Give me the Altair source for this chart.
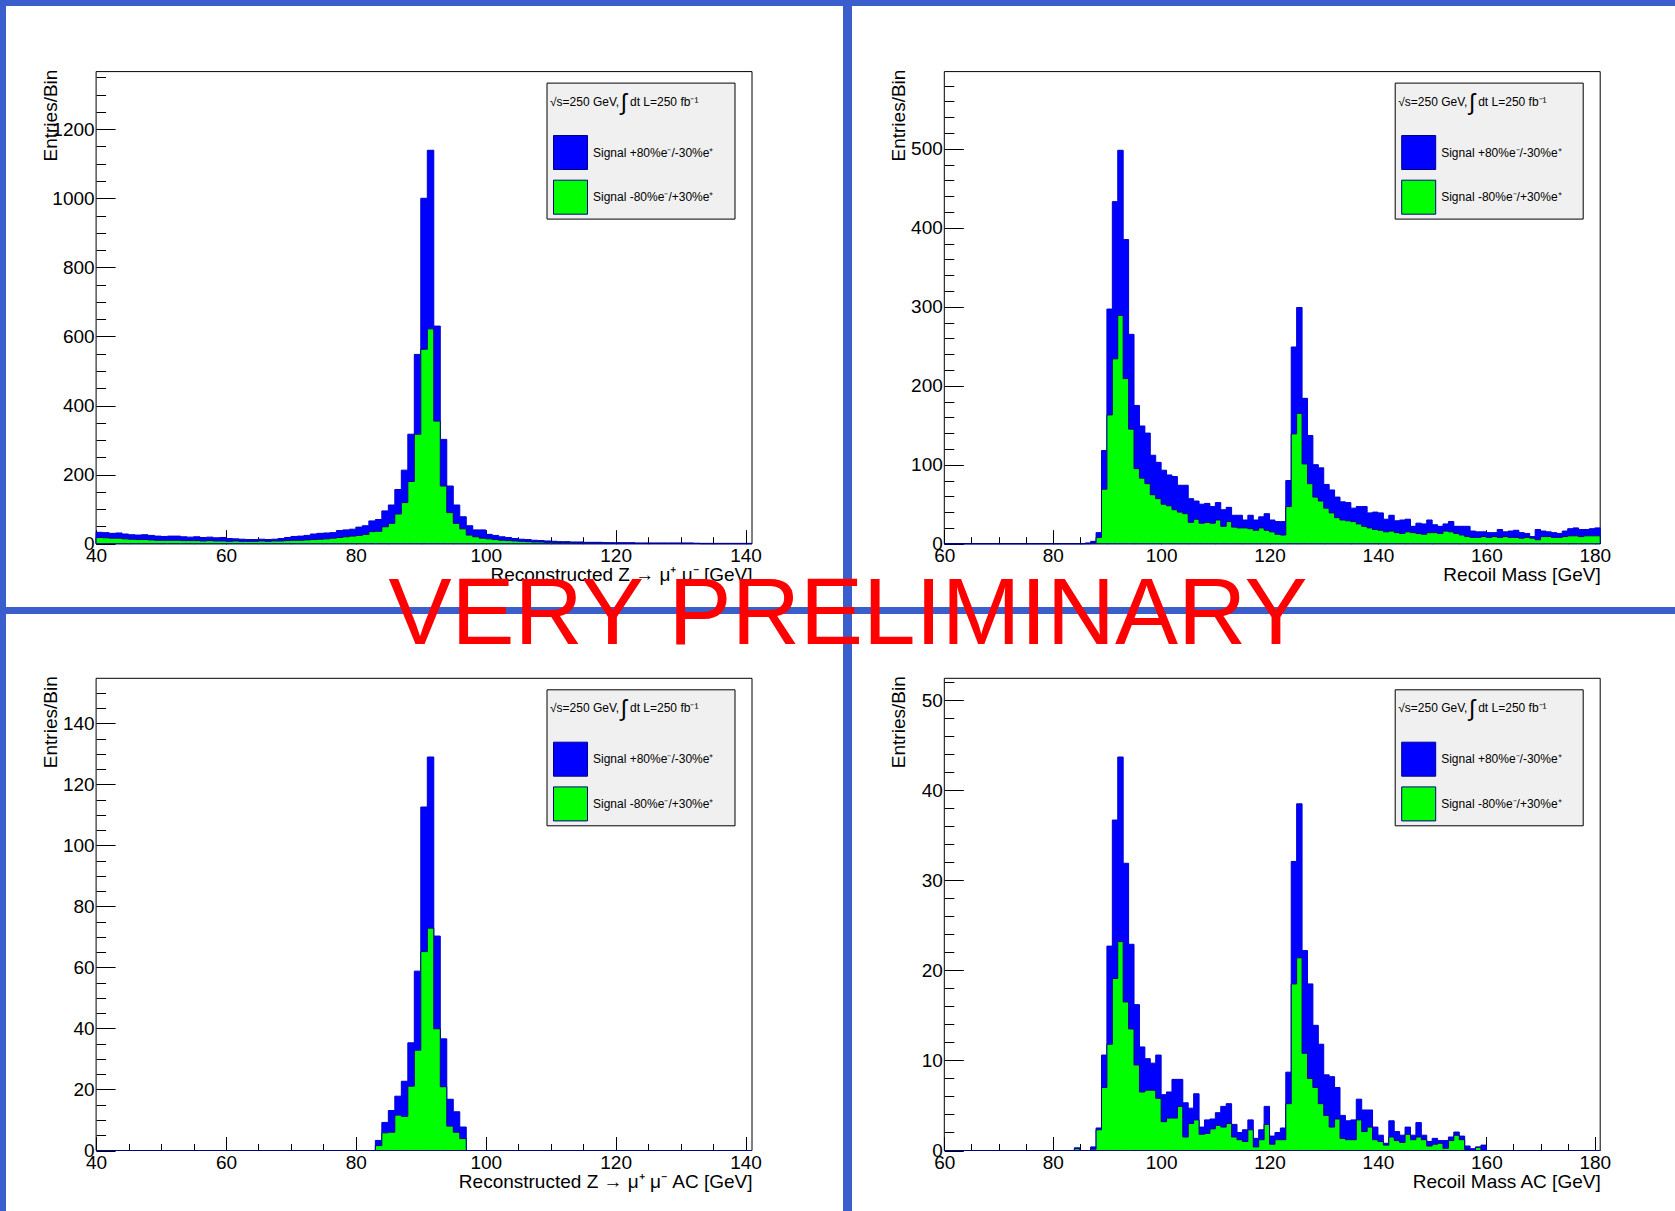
import altair as alt
import pandas as pd

W, H = 1675, 1211
FONT = "Liberation Sans"
BLUE = "#0000ff"
GREEN = "#00ff00"
BORDER = "#3a5fcd"

LABEL_BLUE = "Signal +80%e⁻/-30%e⁺"
LABEL_GREEN = "Signal -80%e⁻/+30%e⁺"
# header line of each legend box, in three pieces (the integral sign is set larger)
HEADER_LEFT = "√s=250 GeV,"
HEADER_INT = "∫"
HEADER_RIGHT = "dt L=250 fb⁻¹"

# ---------------- histogram contents (1 GeV bins) ----------------
# Reconstructed Z -> mu mu, bins start at 40 GeV
zmm_start = 40
zmm_pol_plus = [
    33, 32, 30, 31, 28, 26, 25, 26, 24, 22,
    21, 22, 22, 20, 19, 20, 18, 19, 17, 18,
    15, 14, 13, 12, 12, 13, 12, 13, 15, 18,
    21, 22, 24, 28, 30, 31, 32, 38, 40, 42,
    48, 52, 66, 70, 95, 112, 157, 213, 317, 548,
    1000, 1139, 630, 302, 167, 112, 78, 52, 40, 40,
    27, 24, 20, 18, 15, 13, 12, 10, 9, 8,
    7, 6, 6, 5, 5, 4, 4, 4, 3, 3,
    3, 3, 3, 2, 2, 2, 2, 2, 2, 2,
    2, 2, 1, 1, 1, 1, 1, 1, 1, 1,
    1,
]
zmm_pol_minus = [
    18, 17, 16, 16, 14, 13, 12, 12, 11, 10,
    10, 10, 10, 9, 9, 9, 8, 9, 8, 8,
    7, 8, 7, 7, 7, 8, 7, 8, 8, 9,
    10, 10, 11, 12, 13, 14, 16, 18, 20, 22,
    24, 27, 35, 36, 49, 59, 86, 119, 180, 317,
    563, 622, 355, 167, 90, 59, 43, 25, 20, 16,
    14, 12, 10, 9, 8, 7, 6, 5, 5, 4,
    4, 3, 3, 3, 2, 2, 2, 2, 2, 1,
    1, 1, 1, 1, 1, 1, 1, 1, 1, 1,
    1, 1, 1, 0, 0, 0, 0, 0, 0, 0,
    0,
]

# Recoil mass, bins start at 60 GeV
recoil_start = 60
recoil_pol_plus = [0] * 25 + [
    0, 1, 3, 14, 118,
    297, 433, 498, 385, 265, 175, 149, 140, 112, 103,
    93, 87, 85, 74, 74, 57, 54, 50, 51, 47,
    52, 43, 46, 36, 36, 30, 36, 30, 34, 38,
    30, 28, 28, 80, 249, 299, 184, 137, 100, 96,
    75, 68, 59, 53, 52, 45, 47, 47, 39, 40,
    39, 31, 36, 29, 30, 31, 22, 26, 25, 30,
    24, 22, 25, 28, 22, 22, 22, 16, 15, 15,
    14, 14, 18, 15, 16, 17, 14, 13, 9, 18,
    16, 15, 14, 13, 16, 19, 20, 18, 18, 19, 20,
]
recoil_pol_minus = [0] * 25 + [
    0, 0, 1, 8, 69,
    163, 234, 289, 209, 145, 95, 83, 76, 62, 57,
    50, 48, 43, 40, 38, 27, 31, 26, 27, 26,
    30, 22, 28, 21, 20, 20, 19, 17, 20, 17,
    15, 12, 11, 47, 139, 165, 101, 76, 59, 54,
    45, 39, 33, 30, 29, 28, 25, 22, 20, 18,
    17, 15, 16, 14, 13, 15, 14, 13, 12, 14,
    14, 13, 16, 15, 13, 11, 9, 8, 8, 9,
    8, 9, 8, 9, 8, 8, 7, 8, 7, 5,
    9, 9, 8, 8, 9, 10, 10, 9, 10, 10, 10,
]

# Reconstructed Z -> mu mu after cuts, bins start at 40 GeV
zmm_ac_start = 40
zmm_ac_pol_plus = [0] * 43 + [
    3.3, 9.2, 13.1, 17.8, 22.7, 35.3, 58.8, 112.6, 129.0, 70.3, 36.6, 16.8, 12.7, 7.7,
] + [0] * 44
zmm_ac_pol_minus = [0] * 43 + [
    1.6, 5.8, 6.0, 11.6, 11.2, 21.1, 32.9, 65.2, 72.9, 39.9, 20.9, 8.0, 6.0, 3.9,
] + [0] * 44

# Recoil mass after cuts, bins start at 60 GeV
recoil_ac_start = 60
recoil_ac_pol_plus = [0] * 24 + [
    0.3, 0, 0, 0.4, 2.5, 10.6,
    22.7, 36.7, 43.7, 31.9, 22.9, 16.2, 11.5, 10.2, 9.7, 10.6,
    6.2, 6.5, 7.9, 7.9, 5.3, 4.7, 6.3, 2.6, 3.4, 3.5,
    4.2, 4.9, 5.2, 2.9, 2.0, 2.3, 3.4, 1.35, 2.3, 4.9,
    1.6, 2.0, 2.5, 8.7, 32.1, 38.5, 22.2, 18.5, 13.9, 11.8,
    8.4, 8.2, 7.0, 3.9, 3.3, 3.4, 5.7, 4.5, 4.5, 2.6,
    1.7, 0.8, 3.3, 2.1, 1.7, 2.6, 1.7, 3.1, 1.7, 1.0,
    1.35, 1.1, 1.1, 1.5, 2.05, 1.6, 0.5, 0.2, 0.4, 0.6,
] + [0] * 21
recoil_ac_pol_minus = [0] * 24 + [
    0.2, 0, 0, 0.15, 2.3, 7.0,
    11.8, 19.1, 23.2, 16.5, 13.5, 9.5, 6.5, 6.7, 6.7, 5.8,
    3.2, 3.6, 3.6, 4.9, 1.5, 3.0, 3.4, 1.8, 1.9, 2.4,
    2.8, 2.6, 3.0, 1.5, 1.2, 1.0, 2.3, 0.4, 1.2, 2.9,
    0.7, 1.2, 1.2, 5.2, 18.5, 21.4, 10.8, 8.0, 7.0, 5.2,
    3.9, 2.6, 3.5, 1.35, 1.2, 1.2, 3.4, 2.1, 2.6, 1.2,
    1.0, 0.6, 1.5, 1.1, 0.9, 1.8, 1.2, 1.5, 1.2, 0.5,
    0.7, 0.8, 0.25, 1.1, 1.7, 1.2, 0.1, 0, 0.35, 0,
] + [0] * 21

# ---------------- axis tick values ----------------
z_x_major = [40, 60, 80, 100, 120, 140]
z_x_minor = list(range(40, 141, 5))
r_x_major = [60, 80, 100, 120, 140, 160, 180]
r_x_minor = list(range(60, 181, 5))

ZTITLE = "Reconstructed Z → μ⁺ μ⁻ [GeV]"
ZTITLE_AC = "Reconstructed Z → μ⁺ μ⁻ AC [GeV]"

# pad layout: frame box (left, top, right, bottom) in canvas pixels
LEFT_X = (96.1, 752.0)
RIGHT_X = (944.3, 1600.2)
TOP_Y = (71.6, 543.7)
BOTTOM_Y = (678.3, 1150.5)

panels = [
    dict(frame=(LEFT_X[0], TOP_Y[0], LEFT_X[1], TOP_Y[1]), start=zmm_start,
         plus=zmm_pol_plus, minus=zmm_pol_minus, xtitle=ZTITLE,
         xmajor=z_x_major, xminor=z_x_minor,
         ymajor=list(range(0, 1201, 200)), yminor=list(range(0, 1351, 50))),
    dict(frame=(RIGHT_X[0], TOP_Y[0], RIGHT_X[1], TOP_Y[1]), start=recoil_start,
         plus=recoil_pol_plus, minus=recoil_pol_minus, xtitle="Recoil Mass [GeV]",
         xmajor=r_x_major, xminor=r_x_minor,
         ymajor=list(range(0, 501, 100)), yminor=list(range(0, 581, 20))),
    dict(frame=(LEFT_X[0], BOTTOM_Y[0], LEFT_X[1], BOTTOM_Y[1]), start=zmm_ac_start,
         plus=zmm_ac_pol_plus, minus=zmm_ac_pol_minus, xtitle=ZTITLE_AC,
         xmajor=z_x_major, xminor=z_x_minor,
         ymajor=list(range(0, 141, 20)), yminor=list(range(0, 151, 5))),
    dict(frame=(RIGHT_X[0], BOTTOM_Y[0], RIGHT_X[1], BOTTOM_Y[1]), start=recoil_ac_start,
         plus=recoil_ac_pol_plus, minus=recoil_ac_pol_minus, xtitle="Recoil Mass AC [GeV]",
         xmajor=r_x_major, xminor=r_x_minor,
         ymajor=list(range(0, 51, 10)), yminor=list(range(0, 53, 2))),
]


def step_rows(start, values, series):
    """Rows for a step-after area: one point per bin edge, last value repeated."""
    rows = [{"x": start + i, "y": v, "series": series} for i, v in enumerate(values)]
    rows.append({"x": start + len(values), "y": values[-1], "series": series})
    return pd.DataFrame(rows)


ONE = alt.Data(values=[{}])


def header_text(text, x, y, size, align):
    return alt.Chart(ONE).mark_text(
        text=text, font=FONT, fontSize=size, color="black",
        align=align, baseline="middle"
    ).encode(x=alt.value(x), y=alt.value(y))


def panel_layers(p):
    fx0, fy0, fx1, fy1 = p["frame"]
    xlo = p["start"]
    xhi = p["start"] + len(p["plus"])
    ymax = 1.2 * max(p["plus"])

    xs = alt.Scale(domain=[xlo, xhi], range=[fx0, fx1], nice=False, zero=False)
    ys = alt.Scale(domain=[0, ymax], range=[fy1, fy0], nice=False, zero=False)
    cs = alt.Scale(domain=[LABEL_BLUE, LABEL_GREEN], range=[BLUE, GREEN])

    # frame + minor ticks (ticks point into the frame)
    frame = alt.Chart(pd.DataFrame({"x0": [xlo], "x1": [xhi], "y0": [0], "y1": [ymax]})).mark_rect(
        fill="transparent", stroke="black", strokeWidth=1
    ).encode(
        x=alt.X("x0:Q", scale=xs, axis=alt.Axis(
            orient="top", offset=-fy1, values=p["xminor"], tickSize=7, tickColor="black",
            labels=False, domain=False, grid=False, title=None)),
        x2="x1:Q",
        y=alt.Y("y0:Q", scale=ys, axis=alt.Axis(
            orient="right", offset=fx0 - W, values=p["yminor"], tickSize=9.5, tickColor="black",
            labels=False, domain=False, grid=False, title=None)),
        y2="y1:Q",
    )

    legend = alt.Legend(
        title=None, orient="none", legendX=fx1 - 202, legendY=fy0 + 63.4,
        padding=0, direction="vertical",
        labelFont=FONT, labelFontSize=12, labelColor="black", labelOffset=5, labelLimit=400,
        symbolType="square", symbolSize=1156, symbolStrokeColor="#00008b",
        symbolStrokeWidth=1, symbolOpacity=1, symbolOffset=3, rowPadding=5.7,
    )

    plus = alt.Chart(step_rows(xlo, p["plus"], LABEL_BLUE)).mark_area(
        interpolate="step-after", opacity=1, stroke="#0000d0", strokeWidth=1
    ).encode(
        x=alt.X("x:Q", scale=xs, axis=alt.Axis(
            orient="bottom", offset=fy1 - H, values=p["xmajor"], format="d",
            ticks=False, domain=False, grid=False,
            labelFont=FONT, labelFontSize=19, labelColor="black", labelPadding=3,
            labelFlush=False, labelOverlap=False,
            title=p["xtitle"], titleFont=FONT, titleFontSize=19, titleFontWeight="normal",
            titleColor="black", titleX=fx1, titleY=37, titleAlign="right",
            titleBaseline="alphabetic")),
        y=alt.Y("y:Q", scale=ys, stack=None, axis=alt.Axis(
            orient="left", offset=-fx0, values=p["ymajor"], format="d",
            ticks=False, domain=False, grid=False,
            labelFont=FONT, labelFontSize=19, labelColor="black", labelPadding=2,
            labelFlush=False, labelOverlap=False,
            title="Entries/Bin", titleFont=FONT, titleFontSize=19, titleFontWeight="normal",
            titleColor="black", titleAngle=270, titleAlign="right",
            titleBaseline="alphabetic", titleX=-40, titleY=fy0 - 2.5)),
        color=alt.Color("series:N", scale=cs, legend=legend),
    )

    minus = alt.Chart(step_rows(xlo, p["minus"], LABEL_GREEN)).mark_area(
        interpolate="step-after", opacity=1, stroke="#00008b", strokeWidth=1
    ).encode(
        x=alt.X("x:Q", scale=xs, axis=alt.Axis(
            orient="top", offset=-fy1, values=p["xmajor"], tickSize=14, tickColor="black",
            labels=False, domain=False, grid=False, title=None)),
        y=alt.Y("y:Q", scale=ys, stack=None, axis=alt.Axis(
            orient="right", offset=fx0 - W, values=p["ymajor"], tickSize=19, tickColor="black",
            labels=False, domain=False, grid=False, title=None)),
        color=alt.Color("series:N", scale=cs, legend=None),
    )

    legend_box = alt.Chart(ONE).mark_rect(
        fill="#f0f0f0", stroke="black", strokeWidth=1
    ).encode(
        x=alt.value(fx1 - 205), x2=alt.value(fx1 - 17),
        y=alt.value(fy0 + 11.5), y2=alt.value(fy0 + 147.5),
    )

    hy = fy0 + 30
    header = [
        header_text(HEADER_LEFT, fx1 - 202, hy, 12, "left"),
        header_text(HEADER_INT, fx1 - 128, hy + 1, 23, "center"),
        header_text(HEADER_RIGHT, fx1 - 122, hy, 12, "left"),
    ]

    return [frame, plus, minus, legend_box] + header


def band(x0, x1, y0, y1):
    return alt.Chart(ONE).mark_rect(fill=BORDER).encode(
        x=alt.value(x0), x2=alt.value(x1), y=alt.value(y0), y2=alt.value(y1)
    )


# blue pad separators
bands = [
    band(0, W, 0, 6),
    band(0, 6, 0, H),
    band(843, 852, 0, H),
    band(0, W, 607, 614),
]

stamp = alt.Chart(ONE).mark_text(
    text="VERY PRELIMINARY", font=FONT, fontSize=94.5, color="#ff0000",
    align="center", baseline="alphabetic"
).encode(x=alt.value(848), y=alt.value(644))

layers = list(bands)
for p in panels:
    layers += panel_layers(p)
layers.append(stamp)

chart = alt.layer(*layers).resolve_scale(
    x="independent", y="independent", color="independent"
).resolve_axis(
    x="independent", y="independent"
).resolve_legend(
    color="independent"
).properties(
    width=W, height=H, padding=0, background="white",
    autosize=alt.AutoSizeParams(type="none"),
).configure_view(stroke="transparent")

chart.save("out.html", embed_options={"renderer": "svg", "actions": False})
